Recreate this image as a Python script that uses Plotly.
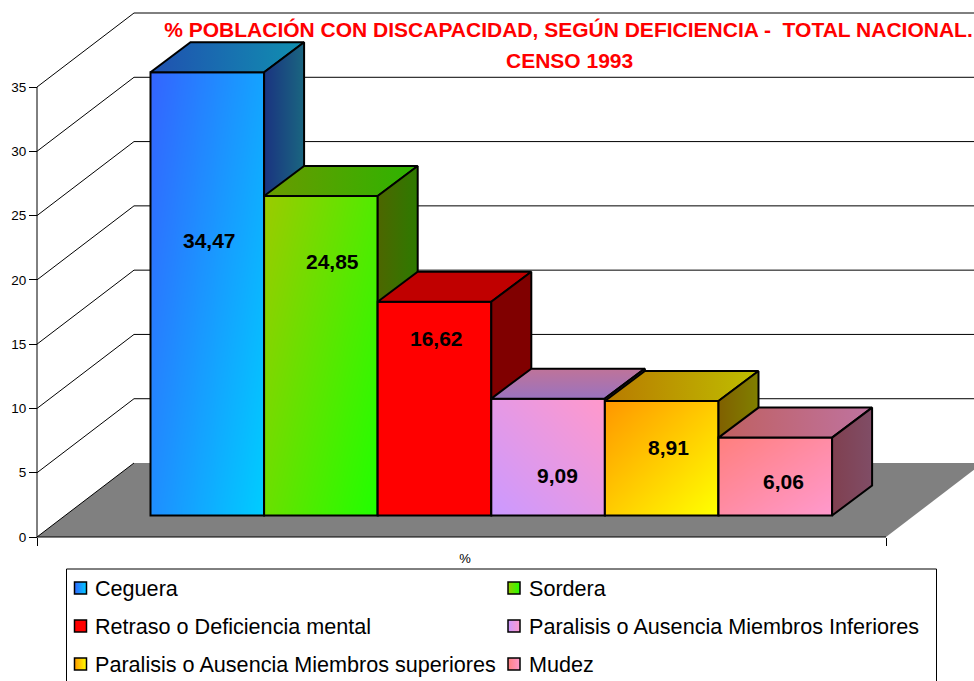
import numpy as np
import plotly.graph_objects as go

# ---------- data ----------
categories = ["Ceguera", "Sordera", "Retraso o Deficiencia mental",
              "Paralisis o Ausencia Miembros Inferiores",
              "Paralisis o Ausencia Miembros superiores", "Mudez"]
values = [34.47, 24.85, 16.62, 9.09, 8.91, 6.06]
value_labels = ["34,47", "24,85", "16,62", "9,09", "8,91", "6,06"]
y_ticks = [0, 5, 10, 15, 20, 25, 30, 35]
x_label = "%"
title_lines = ["% POBLACIÓN CON DISCAPACIDAD, SEGÚN DEFICIENCIA -\u00a0\u00a0TOTAL NACIONAL.", "CENSO 1993"]

# ---------- style / layout ----------
W, H = 974, 681
FONT = "Liberation Sans"
SLOT = 113.6          # px per category
VPX = 12.857          # px per value unit
X0PX, Y0PX = 150.5, 537
def xd(px): return (px - X0PX) / SLOT
def yd(py): return (Y0PX - py) / VPX

front = [("#3366ff", "#00ccff", 0.6, 0.4), ("#99cc00", "#22ff00", 0.6, 0.4),
         ("#ff0000", "#ff0000", 0.5, 0.5), ("#cc99ff", "#ff99cc", 0.5, -0.5),
         ("#ff9900", "#ffff00", 0.5, 0.5), ("#ff8080", "#ff99cc", 0.5, 0.5)]
top = [("horizontal", "#2050b0", "#1090b0"), ("horizontal", "#6a9a00", "#2db400"),
       ("horizontal", "#c00000", "#c00000"), ("vertical", "#9a73bf", "#bf7399"),
       ("horizontal", "#b87a00", "#bfbf00"), ("horizontal", "#bf6060", "#bf73a0")]
side = [("#1a3380", "#1a6680"), ("#4d6600", "#2d7a00"), ("#800000", "#800000"),
        ("#664d80", "#804d66"), ("#806000", "#808000"), ("#804050", "#804d66")]
label_px = [(209, 240), (332, 261), (436, 338), (557, 475), (668, 447), (783, 481)]
legend_px = [(80.5, 588), (514, 588), (80.5, 626), (514, 626), (80.5, 664), (514, 664)]

xl, xr = xd(37), xd(886)
wall_dx, wall_dv = 97 / SLOT, 74 / VPX
bar_dx, bar_dv = 40 / SLOT, 30 / VPX
bar_base = (Y0PX - 515.5) / VPX
x_rng = [xd(0), xd(W)]
y_rng = [yd(H), yd(0)]

fig = go.Figure()
# floor
fig.add_trace(go.Scatter(x=[xl, xr, xr + wall_dx, xl + wall_dx, xl], y=[0, 0, wall_dv, wall_dv, 0],
                         mode="lines", fill="toself", fillcolor="#808080", line=dict(width=0),
                         hoverinfo="skip", showlegend=False))
# walls and gridlines follow the value ticks
gx, gy = [xl, xl, None, xl, xr, None], [0, y_ticks[-1], None, 0, 0, None]
for t in y_ticks:
    gx += [xl, xl + wall_dx, None]
    gy += [t, t + wall_dv, None]
    if t > 0:
        gx += [xl + wall_dx, xr + wall_dx, None]
        gy += [t + wall_dv, t + wall_dv, None]
fig.add_trace(go.Scatter(x=gx, y=gy, mode="lines", line=dict(color="black", width=1),
                         hoverinfo="skip", showlegend=False))

# bars, each in its own overlaid subplot so that later bars cover earlier ones
layout_axes = {}
N = 24
for i, (name, v) in enumerate(zip(categories, values)):
    n = i + 2
    xa, ya = f"x{n}", f"y{n}"
    layout_axes[f"xaxis{n}"] = dict(overlaying="x", range=x_rng, visible=False, domain=[0, 1])
    layout_axes[f"yaxis{n}"] = dict(overlaying="y", range=y_rng, visible=False, domain=[0, 1])
    x0, x1, yb, yt = i, i + 1, bar_base, bar_base + v
    c0, c1, wu, ww = front[i]
    u = np.linspace(0, 1, N)
    U, Wv = np.meshgrid(u, u)   # Wv: 0 at the top of the bar
    z = wu * U + ww * Wv + (0.5 if ww < 0 else 0)
    fig.add_trace(go.Heatmap(x=np.linspace(x0, x1, N + 1), y=np.linspace(yt, yb, N + 1), z=z,
                             zmin=0, zmax=1, zsmooth="best", showscale=False, hoverinfo="skip",
                             colorscale=[[0, c0], [1, c1]], xaxis=xa, yaxis=ya))
    # top face
    tkind, t0, t1 = top[i]
    fig.add_trace(go.Scatter(x=[x0, x0 + bar_dx, x1 + bar_dx, x1, x0],
                             y=[yt, yt + bar_dv, yt + bar_dv, yt, yt],
                             mode="lines", fill="toself", line=dict(color="black", width=2),
                             fillgradient=dict(type=tkind, colorscale=[[0, t0], [1, t1]]),
                             hoverinfo="skip", showlegend=False, xaxis=xa, yaxis=ya))
    # side face
    s0, s1 = side[i]
    fig.add_trace(go.Scatter(x=[x1, x1 + bar_dx, x1 + bar_dx, x1, x1],
                             y=[yt, yt + bar_dv, yb + bar_dv, yb, yt],
                             mode="lines", fill="toself", line=dict(color="black", width=2),
                             fillgradient=dict(type="horizontal", colorscale=[[0, s0], [1, s1]]),
                             hoverinfo="skip", showlegend=False, xaxis=xa, yaxis=ya))
    # the bar itself: outline of the front face
    fig.add_trace(go.Bar(x=[i + 0.5], y=[v], base=bar_base, width=1, name=name,
                         marker=dict(color="rgba(0,0,0,0)", line=dict(color="black", width=2)),
                         hovertemplate=name + ": " + value_labels[i] + "<extra></extra>",
                         showlegend=False, xaxis=xa, yaxis=ya))

annotations = []
for (px, py), t in zip(label_px, value_labels):
    annotations.append(dict(x=xd(px), y=yd(py), xref="x", yref="y", text=f"<b>{t}</b>", showarrow=False,
                            yanchor="middle", font=dict(family=FONT, size=21, color="black")))

# legend
for i, ((px, py), name) in enumerate(zip(legend_px, categories)):
    c0, c1, _, _ = front[i]
    fig.add_trace(go.Scatter(x=[xd(px)], y=[yd(py)], mode="markers", hoverinfo="skip", showlegend=False,
                             marker=dict(symbol="square", size=12, color=c0,
                                         gradient=dict(type="horizontal", color=c1),
                                         line=dict(color="black", width=1.5)),
                             xaxis=f"x{len(categories)+2}", yaxis=f"y{len(categories)+2}"))
    annotations.append(dict(x=xd(px + 12.5), y=yd(py), xref="x", yref="y", text=name, xanchor="left",
                            yanchor="middle", showarrow=False, font=dict(family=FONT, size=21.6, color="black")))
n = len(categories) + 2
layout_axes[f"xaxis{n}"] = dict(overlaying="x", range=x_rng, visible=False, domain=[0, 1])
layout_axes[f"yaxis{n}"] = dict(overlaying="y", range=y_rng, visible=False, domain=[0, 1])

annotations.append(dict(x=569 / W, y=1 - 60 / H, xref="paper", yref="paper", showarrow=False, yanchor="middle",
                        text=f"<b>{title_lines[1]}</b>", font=dict(family=FONT, size=21, color="#ff0000")))

fig.update_layout(
    width=W, height=H, margin=dict(l=0, r=0, t=0, b=0), autosize=False,
    paper_bgcolor="white", plot_bgcolor="rgba(0,0,0,0)", showlegend=False, barmode="overlay",
    title=dict(text=f"<b>{title_lines[0]}</b>", x=568.5 / W, xanchor="center", xref="paper",
               y=1 - 30 / H, yanchor="middle", yref="paper",
               font=dict(family=FONT, size=21, color="#ff0000")),
    xaxis=dict(range=x_rng, domain=[0, 1], anchor="free", position=(H - Y0PX) / H, showgrid=False, zeroline=False,
               tickmode="array", tickvals=[xd(465)], ticktext=[x_label], ticks="outside", ticklen=9,
               tickcolor="rgba(0,0,0,0)", tickfont=dict(family=FONT, size=13, color="black"),
               minor=dict(tickmode="array", tickvals=[xl, xr], ticks="outside", ticklen=8,
                          tickcolor="black", tickwidth=1, showgrid=False)),
    yaxis=dict(range=y_rng, domain=[0, 1], anchor="free", position=37 / W, showgrid=False, zeroline=False,
               tickmode="array", tickvals=y_ticks, ticks="outside", ticklen=8, tickcolor="black",
               tickfont=dict(family=FONT, size=13.5, color="black")),
    annotations=annotations,
    shapes=[dict(type="rect", xref="paper", yref="paper", x0=66.5 / W, x1=936.5 / W, y0=-0.02, y1=1 - 569 / H,
                 line=dict(color="black", width=1), fillcolor="rgba(0,0,0,0)")],
    **layout_axes,
)
fig.write_html("out.html", config={"displayModeBar": False},
               post_script="document.body.style.margin='0';document.documentElement.style.overflow='hidden';")
